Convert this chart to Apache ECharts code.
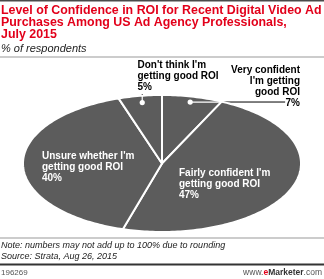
<!DOCTYPE html>
<html><head><meta charset="utf-8">
<script src="https://cdn.jsdelivr.net/npm/echarts@6/dist/echarts.min.js"></script>
<style>html,body{margin:0;padding:0;background:#fff}#c{width:324px;height:279px}</style>
</head><body><div id="c"></div>
<script>
// ---- data ----
const categories = [
  "Very confident\nI'm getting\ngood ROI",
  "Fairly confident I'm\ngetting good ROI",
  "Unsure whether I'm\ngetting good ROI",
  "Don't think I'm\ngetting good ROI"
];
const values = [7, 47, 40, 5];

// ---- label layout (pixel positions / styles, not data) ----
const labelLayout = [
  {x: 300, y: 65, align: 'right', color: '#000', leader: 'h', r: 0.92, endX: 0.886},
  {x: 179, y: 168, align: 'left', color: '#fff'},
  {x: 42, y: 151, align: 'left', color: '#fff'},
  {x: 137.5, y: 59.5, align: 'left', color: '#000', leader: 'v', r: 0.9, endY: 94}
];

const total = values.reduce((a, b) => a + b, 0);
const starts = [];
values.reduce((acc, v, i) => { starts[i] = acc; return acc + v; }, 0);

const FILL = '#5c5c5c';
const LABEL_FONT = 'bold 10px "Liberation Sans", Arial, sans-serif';

function renderItem(params, api) {
  const i = params.dataIndex;
  const v = api.value(0);
  const a0 = starts[i] / total * Math.PI * 2;
  const a1 = (starts[i] + v) / total * Math.PI * 2;
  const pt = (a, r) => api.coord([r * Math.sin(a), r * Math.cos(a)]);
  const pts = [api.coord([0, 0])];
  const n = Math.max(8, Math.ceil((a1 - a0) / 0.02));
  for (let k = 0; k <= n; k++) pts.push(pt(a0 + (a1 - a0) * k / n, 1));
  const children = [{
    type: 'polygon', z2: 0,
    shape: {points: pts},
    style: {fill: FILL, stroke: '#fff', lineWidth: 2, lineJoin: 'round'}
  }];
  const L = labelLayout[i];
  children.push({
    type: 'text', z2: 20,
    style: {
      text: categories[i] + '\n' + v + '%',
      x: L.x, y: L.y, fill: L.color, font: LABEL_FONT,
      align: L.align, textAlign: L.align,
      verticalAlign: 'top', textVerticalAlign: 'top', lineHeight: 11
    }
  });
  if (L.leader) {
    const am = (a0 + a1) / 2;
    const nx = L.r * Math.sin(am), ny = L.r * Math.cos(am);
    const dot = api.coord([nx, ny]);
    let outer, edge;
    if (L.leader === 'h') {
      outer = api.coord([L.endX, ny]);
      edge = api.coord([Math.sqrt(Math.max(0, 1 - ny * ny)), ny]);
    } else {
      outer = [dot[0], L.endY];
      edge = api.coord([nx, Math.sqrt(Math.max(0, 1 - nx * nx))]);
    }
    children.push({type: 'line', z2: -1, shape: {x1: dot[0], y1: dot[1], x2: outer[0], y2: outer[1]},
      style: {stroke: '#000', lineWidth: 1}});
    children.push({type: 'line', z2: 10, shape: {x1: dot[0], y1: dot[1], x2: edge[0], y2: edge[1]},
      style: {stroke: '#fff', lineWidth: 1.2}});
    children.push({type: 'circle', z2: 11, shape: {cx: dot[0], cy: dot[1], r: 2.6},
      style: {fill: '#fff'}});
  }
  return {type: 'group', children};
}

const chart = echarts.init(document.getElementById('c'), null, {renderer: 'canvas'});
chart.setOption({
  animation: false,
  backgroundColor: '#fff',
  title: {
    text: 'Level of Confidence in ROI for Recent Digital Video Ad\nPurchases Among US Ad Agency Professionals,\nJuly 2015',
    subtext: '% of respondents',
    left: 1, top: 5, itemGap: 2, padding: 0,
    textStyle: {color: '#e2001a', fontFamily: '"Liberation Sans", Arial, sans-serif', fontWeight: 'bold', fontSize: 12.4, lineHeight: 11.75},
    subtextStyle: {color: '#222', fontFamily: '"Liberation Sans", Arial, sans-serif', fontStyle: 'italic', fontSize: 11, lineHeight: 12}
  },
  grid: {left: 23, top: 95, width: 278, height: 137, containLabel: false},
  xAxis: {type: 'value', min: -1, max: 1, show: false},
  yAxis: {type: 'value', min: -1, max: 1, show: false},
  series: [{
    type: 'custom',
    renderItem,
    encode: {x: -1, y: -1, tooltip: 0},
    data: values.map((v, i) => ({value: [v], name: categories[i]}))
  }],
  graphic: [
    {type: 'rect', shape: {x: 0, y: 0, width: 324, height: 1.5}, style: {fill: '#4a4a4a'}},
    {type: 'rect', shape: {x: 0, y: 56.5, width: 324, height: 1}, style: {fill: '#9a9a9a'}},
    {type: 'rect', shape: {x: 0, y: 237.5, width: 324, height: 1}, style: {fill: '#9a9a9a'}},
    {type: 'text', style: {text: 'Note: numbers may not add up to 100% due to rounding', x: 1, y: 245.5,
      verticalAlign: 'middle', textVerticalAlign: 'middle', fill: '#222', font: 'italic 9px "Liberation Sans", Arial, sans-serif'}},
    {type: 'text', style: {text: 'Source: Strata, Aug 26, 2015', x: 1, y: 256,
      verticalAlign: 'middle', textVerticalAlign: 'middle', fill: '#222', font: 'italic 9px "Liberation Sans", Arial, sans-serif'}},
    {type: 'rect', shape: {x: 0, y: 263.5, width: 324, height: 2}, style: {fill: '#333'}},
    {type: 'text', style: {text: '196269', x: 1, y: 272.5,
      verticalAlign: 'middle', textVerticalAlign: 'middle', fill: '#555', font: '8px "Liberation Sans", Arial, sans-serif'}},
    {type: 'text', style: {
      text: '{a|www.}{e|e}{m|Marketer}{a|.com}', x: 322, y: 272.5,
      align: 'right', textAlign: 'right', verticalAlign: 'middle', textVerticalAlign: 'middle',
      rich: {
        a: {fill: '#555', color: '#555', font: '8.5px "Liberation Sans", Arial, sans-serif'},
        e: {fill: '#e2001a', color: '#e2001a', font: 'bold 8.5px "Liberation Sans", Arial, sans-serif'},
        m: {fill: '#333', color: '#333', font: 'bold 8.5px "Liberation Sans", Arial, sans-serif'}
      }
    }}
  ]
});
</script>
</body></html>
